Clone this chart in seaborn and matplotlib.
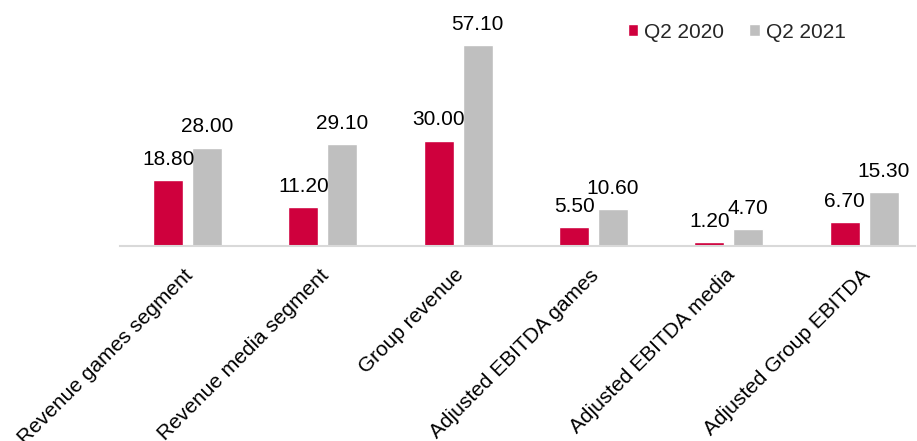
import matplotlib
matplotlib.use("Agg")
import matplotlib.pyplot as plt
import matplotlib.transforms as mtransforms
import seaborn as sns
import pandas as pd

categories = ["Revenue games segment", "Revenue media segment", "Group revenue",
              "Adjusted EBITDA games", "Adjusted EBITDA media", "Adjusted Group EBITDA"]
series_names = ["Q2 2020", "Q2 2021"]
q2_2020 = [18.80, 11.20, 30.00, 5.50, 1.20, 6.70]
q2_2021 = [28.00, 29.10, 57.10, 10.60, 4.70, 15.30]
colors = ["#CF003D", "#BFBFBF"]

df = pd.DataFrame({
    "category": categories * 2,
    "series": [series_names[0]] * len(categories) + [series_names[1]] * len(categories),
    "value": q2_2020 + q2_2021,
})

sns.set_theme(style="white")
plt.rcParams["font.family"] = ["Liberation Sans", "DejaVu Sans"]

FS = 15
W, H = 917, 441
fig = plt.figure(figsize=(W / 100, H / 100), dpi=100)
ax = fig.add_axes([120 / W, 1 - 246 / H, 795 / W, 246 / H])

sns.barplot(data=df, x="category", y="value", hue="series", order=categories,
            hue_order=series_names, palette=colors, width=0.576, gap=0.23,
            saturation=1, ax=ax, legend=True)

ax.set_xlim(-0.5, -0.5 + 795 / 135.3)
ax.set_ylim(0, 70)
ax.set_xlabel("")
ax.set_ylabel("")
ax.set_yticks([])
for s in ["top", "right", "left"]:
    ax.spines[s].set_visible(False)
ax.spines["bottom"].set_color("#D9D9D9")
ax.spines["bottom"].set_linewidth(1.5)
ax.tick_params(axis="x", length=0, pad=14)

for cont in ax.containers:
    ax.bar_label(cont, fmt="%.2f", padding=8, fontsize=FS, color="#000000")

offset = mtransforms.ScaledTranslation(-4 / 100, 0, fig.dpi_scale_trans)
for lab in ax.get_xticklabels():
    lab.set_rotation(45)
    lab.set_ha("right")
    lab.set_va("top")
    lab.set_rotation_mode("anchor")
    lab.set_fontsize(FS)
    lab.set_color("#000000")
    lab.set_transform(lab.get_transform() + offset)

handles, labels = ax.get_legend_handles_labels()
ax.legend(handles, labels, loc="center right",
          bbox_to_anchor=(846 / W, 1 - 32 / H), bbox_transform=fig.transFigure,
          ncol=2, frameon=False, fontsize=FS, handlelength=0.5, handleheight=0.5,
          handletextpad=0.3, columnspacing=1.2, borderpad=0, borderaxespad=0)

fig.savefig("out.png", dpi=100)
